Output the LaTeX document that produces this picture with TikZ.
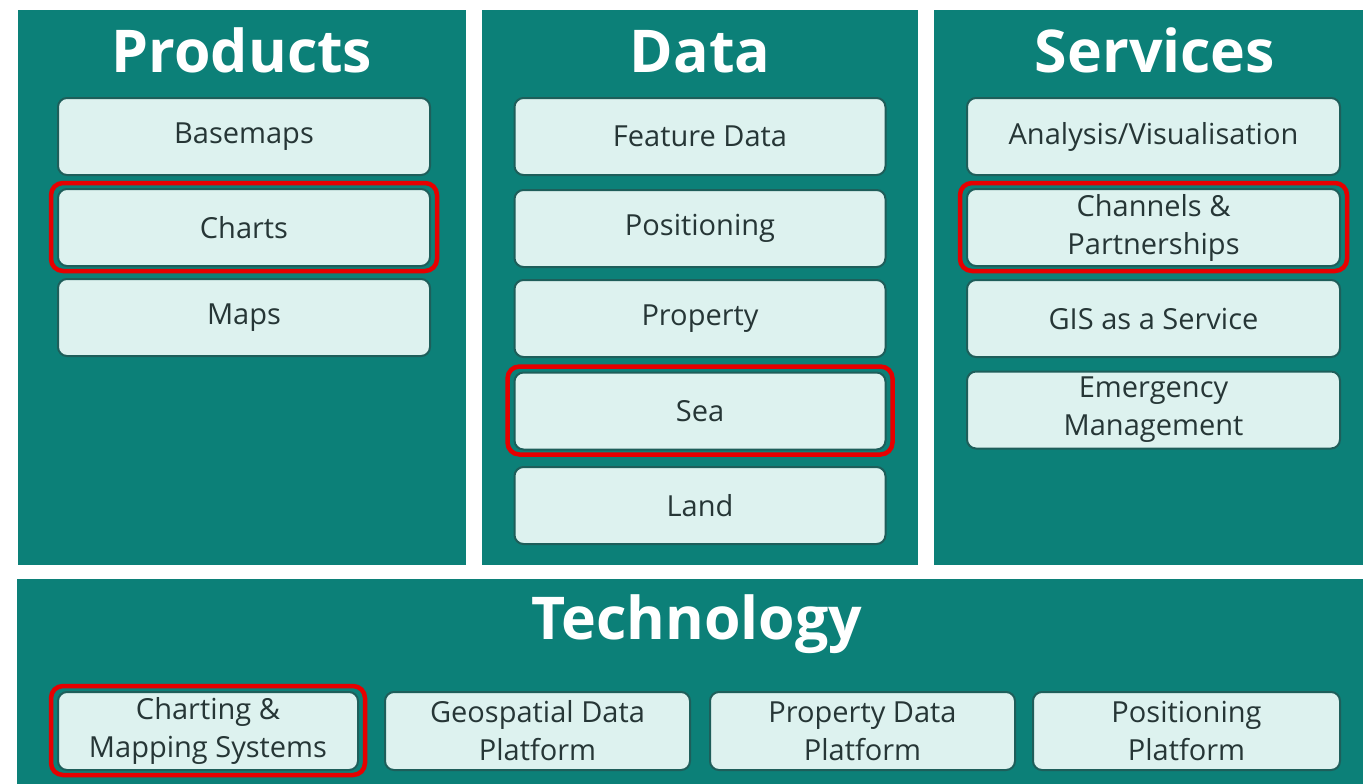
\documentclass[tikz,border=0pt]{standalone}
\usepackage{fontspec}
\setmainfont{Open Sans}
\usetikzlibrary{positioning}
\definecolor{panelteal}{HTML}{0C8078}
\definecolor{itemfill}{HTML}{DDF2EF}
\definecolor{itemline}{HTML}{1E5E5A}
\definecolor{itemtext}{HTML}{263636}
\definecolor{hired}{HTML}{E60000}

\begin{document}
\begin{tikzpicture}[x=1pt,y=-1pt]
  \tikzset{panel/.style = {fill=panelteal, draw=none}}
  \tikzset{title/.style = {text=white, anchor=base, font=\bfseries\fontsize{59}{60}\selectfont}}
  \tikzset{item/.style = {shape=rectangle, rounded corners=9pt, draw=itemline, line width=2pt, fill=itemfill, text=itemtext, align=center, inner sep=0pt, minimum height=77pt, font=\fontsize{29}{38}\selectfont}}
  \tikzset{hilite/.style = {draw=hired, line width=4.5pt, rounded corners=12pt}}

  \useasboundingbox (0,0) rectangle (1363,784);
  \fill[white] (0,0) rectangle (1363,784);

  % panels
  \fill[panel] (18,10) rectangle (466,565);
  \fill[panel] (482,10) rectangle (918,565);
  \fill[panel] (934,10) rectangle (1363,565);
  \fill[panel] (17,579) rectangle (1363,784);

  \node[title] (products) at (242,73) {Products};
  \node[title] (data) at (700,73) {Data};
  \node[title] (services) at (1155,73) {Services};
  \node[title] (technology) at (697,639) {Technology};

  % products
  \foreach \name/\y/\txt in {basemaps/136.5/Basemaps, charts/227.5/Charts, maps/317.5/Maps}
    \node[item, minimum width=372pt] (\name) at (244,\y) {\txt};

  % data
  \foreach \name/\y/\txt in {feature/136.5/Feature Data, positioning/228.5/Positioning, property/318.5/Property, sea/411/Sea, land/505.5/Land}
    \node[item, minimum width=371pt] (\name) at (700,\y) {\txt};

  % services
  \foreach \name/\y/\txt in {analysis/136.5/{Analysis/Visualisation}, channels/227.5/Channels \&\\Partnerships, gis/318.5/GIS as a Service, emergency/410/Emergency\\Management}
    \node[item, minimum width=373pt] (\name) at (1153.5,\y) {\txt};

  % technology
  \node[item, minimum width=300pt, minimum height=78pt] (charting) at (208,731) {Charting \&\\Mapping Systems};
  \node[item, minimum width=305pt, minimum height=78pt] (geospatial) at (537.5,731) {Geospatial Data\\Platform};
  \node[item, minimum width=305pt, minimum height=78pt] (propplat) at (862.5,731) {Property Data\\Platform};
  \node[item, minimum width=307pt, minimum height=78pt] (posplat) at (1186.5,731) {Positioning\\Platform};

  % highlights
  \foreach \name in {charts, sea, channels, charting}
    \draw[hilite] ([shift={(-6,-5)}]\name.north west) rectangle ([shift={(6,4)}]\name.south east);
\end{tikzpicture}
\end{document}
